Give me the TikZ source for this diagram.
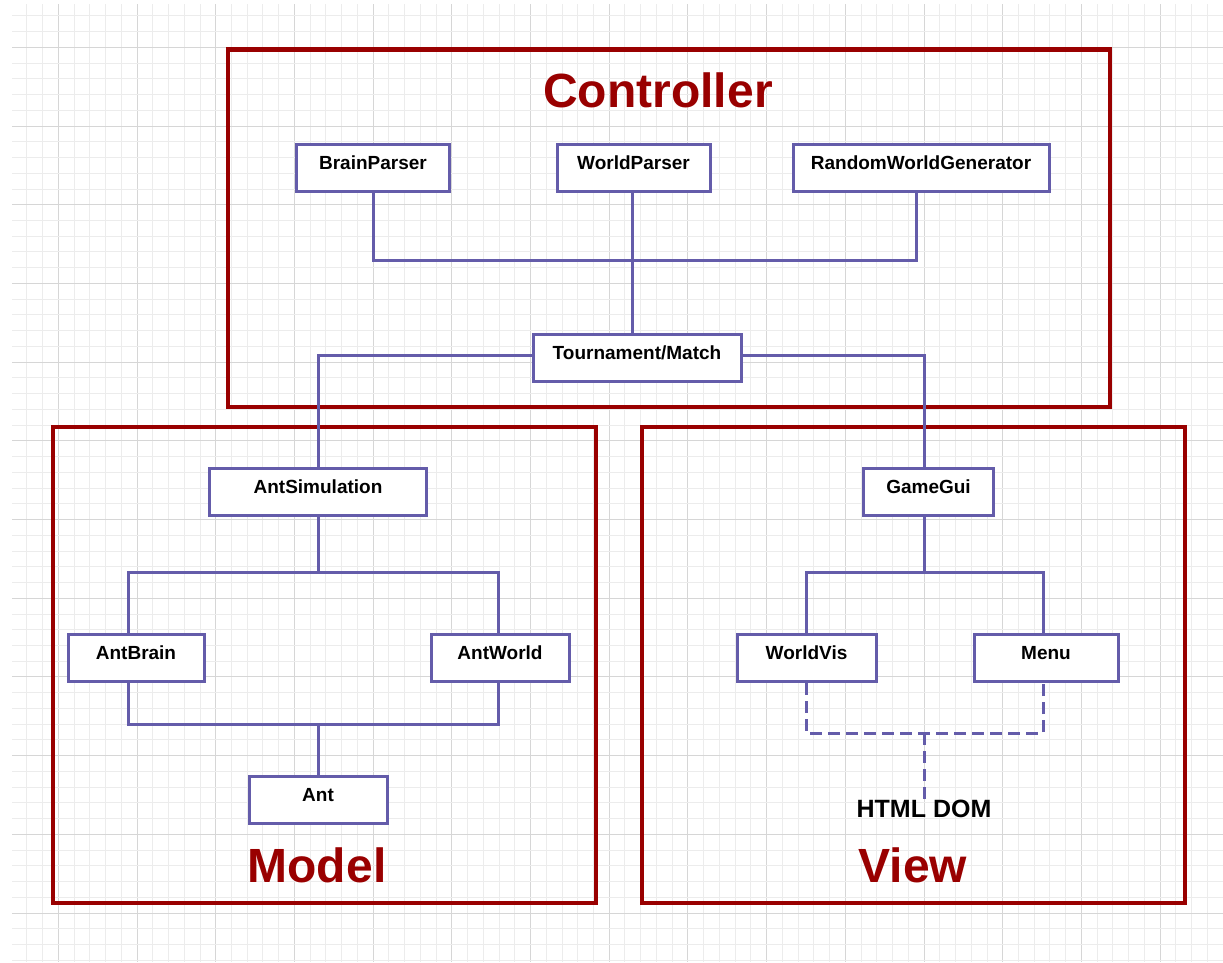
\documentclass[tikz,border=0pt]{standalone}
\usepackage{fontspec}
\setmainfont{Liberation Sans}
\definecolor{layerred}{RGB}{153,0,0}
\definecolor{wireblue}{RGB}{100,92,170}
\definecolor{gridlight}{RGB}{236,236,236}
\definecolor{griddark}{RGB}{214,214,214}
\begin{document}
\begin{tikzpicture}[x=1pt,y=-1pt,
  gridminor/.style={draw=gridlight, line width=0.9pt},
  gridmajor/.style={draw=griddark, line width=0.9pt},
  layer/.style={draw=layerred, line width=4.5pt},
  title/.style={text=layerred, inner sep=0pt, font=\fontsize{48}{50}\selectfont\bfseries},
  cls/.style={draw=wireblue, line width=3pt, fill=white, inner sep=0pt,
    minimum height=47pt, text height=15pt, text depth=13pt,
    font=\fontsize{19}{21}\selectfont\bfseries},
  wire/.style={draw=wireblue, line width=3pt},
  dashwire/.style={wire, dash pattern=on 12pt off 6pt}]

% page and background grid
\useasboundingbox (0,0) rectangle (1223,962);
\fill[white] (0,0) rectangle (1223,962);
\begin{scope}
  \clip (12,4) rectangle (1223,962);
  \foreach \k in {-3,...,75} {
    \pgfmathsetmacro\gx{58.3+15.74*\k}
    \pgfmathtruncatemacro\m{mod(\k+100,5)}
    \ifnum\m=0 \draw[gridmajor] (\gx,0) -- (\gx,962);
    \else \draw[gridminor] (\gx,0) -- (\gx,962); \fi
  }
  \foreach \k in {-3,...,60} {
    \pgfmathsetmacro\gy{47.3+15.74*\k}
    \pgfmathtruncatemacro\m{mod(\k+100,5)}
    \ifnum\m=0 \draw[gridmajor] (0,\gy) -- (1223,\gy);
    \else \draw[gridminor] (0,\gy) -- (1223,\gy); \fi
  }
\end{scope}

% layers
\draw[layer] (228,49.5) rectangle (1110,407);
\draw[layer] (53,427) rectangle (596,903);
\draw[layer] (642,427) rectangle (1185,903);
\node[title] (tctrl) at (658,90) {Controller};
\node[title] (tmodel) at (317,865) {Model};
\node[title] (tview) at (913,865) {View};

% junction points of the connectors
\coordinate (cbus) at (632,260);
\coordinate (mbus) at (318,572);
\coordinate (mbus2) at (318,724);
\coordinate (vbus) at (924,572);
\coordinate (dbus) at (924,733);

% classes
\node[cls, minimum width=153pt] (bp) at (373,168) {BrainParser};
\node[cls, minimum width=153pt] (wp) at (633.5,168) {WorldParser};
\node[cls, minimum width=256pt] (rwg) at (921,168) {RandomWorldGenerator};
\node[cls, minimum width=208pt] (tm) at (637,358) {Tournament/Match};
\node[cls, minimum width=217pt] (as) at (318,492) {AntSimulation};
\node[cls, minimum width=136pt] (ab) at (136,658) {AntBrain};
\node[cls, minimum width=138pt] (aw) at (500,658) {AntWorld};
\node[cls, minimum width=138pt] (ant) at (318,800) {Ant};
\node[cls, minimum width=130pt] (gg) at (928.5,492) {GameGui};
\node[cls, minimum width=139pt] (wv) at (806.5,658) {WorldVis};
\node[cls, minimum width=144pt] (menu) at (1046,658) {Menu};
\node[inner sep=1pt, font=\fontsize{25}{27}\selectfont\bfseries] (dom) at (924,809) {HTML DOM};

% connector ends that sit off the box centres
\coordinate (rwgin) at ([xshift=-5pt]rwg.south);
\coordinate (wpout) at ([xshift=-1.5pt]wp.south);
\coordinate (tmin) at ([xshift=-5pt]tm.north);
\coordinate (tml) at ([yshift=3pt]tm.west);
\coordinate (tmr) at ([yshift=3pt]tm.east);
\coordinate (ggin) at ([xshift=-4.5pt]gg.north);
\coordinate (ggout) at ([xshift=-4.5pt]gg.south);
\coordinate (abin) at ([xshift=-8pt]ab.north);
\coordinate (about) at ([xshift=-8pt]ab.south);
\coordinate (awin) at ([xshift=-2pt]aw.north);
\coordinate (awout) at ([xshift=-2pt]aw.south);
\coordinate (wvin) at ([xshift=-0.5pt]wv.north);
\coordinate (wvout) at ([xshift=-0.5pt]wv.south);
\coordinate (menuin) at ([xshift=-3pt]menu.north);
\coordinate (menuout) at ([xshift=-3pt]menu.south);

% connectors
\draw[wire] (bp.south) |- (cbus) -| (rwgin);
\draw[wire] (wpout) -- (tmin);
\draw[wire] (tml) -| (as.north);
\draw[wire] (tmr) -| (ggin);
\draw[wire] (as.south) -- (mbus);
\draw[wire] (abin) |- (mbus) -| (awin);
\draw[wire] (about) |- (mbus2) -| (awout);
\draw[wire] (ant.north) -- (mbus2);
\draw[wire] (ggout) -- (vbus);
\draw[wire] (wvin) |- (vbus) -| (menuin);
\draw[dashwire] (wvout) |- (dbus) -| (menuout);
\draw[dashwire] (dbus) -- (dom.north);
\end{tikzpicture}
\end{document}
